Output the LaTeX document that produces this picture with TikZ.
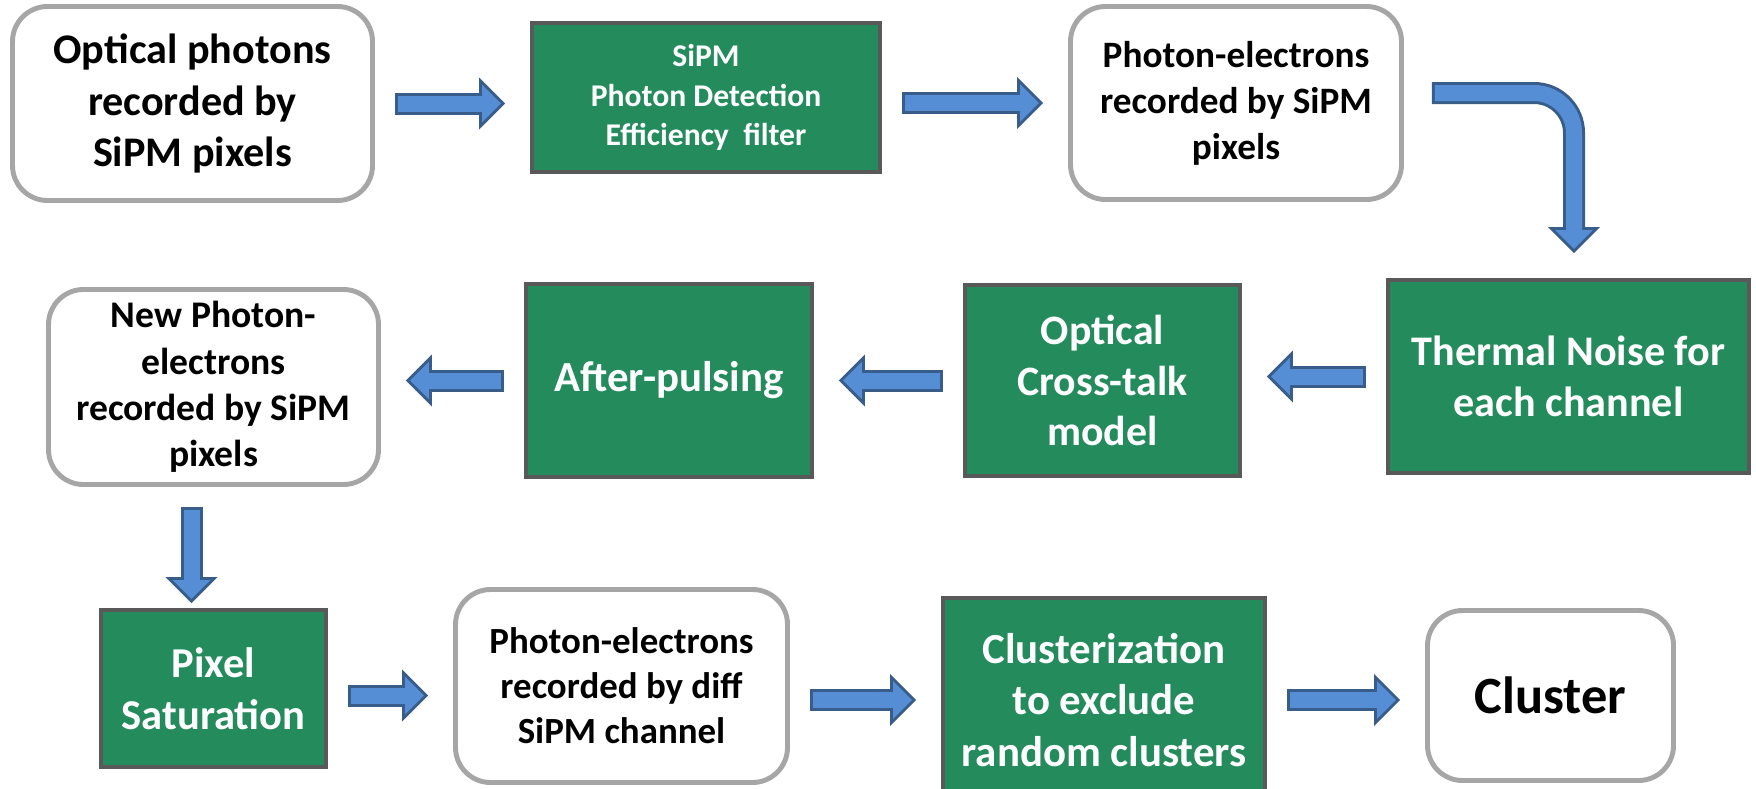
\documentclass[tikz,border=0pt]{standalone}
\usepackage{fontspec}
\setmainfont{Carlito}
\usetikzlibrary{arrows.meta, positioning, calc}

\definecolor{stagegreen}{RGB}{35,139,92}
\definecolor{stageedge}{RGB}{89,89,89}
\definecolor{plainedge}{RGB}{166,166,166}
\definecolor{flowblue}{RGB}{85,142,213}
\definecolor{flowedge}{RGB}{56,93,138}

\begin{document}
\begin{tikzpicture}[
    plain/.style={draw=plainedge, line width=1.4pt, fill=white, rounded corners=0.35cm, align=center, inner sep=0pt},
    stage/.style={draw=stageedge, line width=1.1pt, fill=stagegreen, text=white, align=center, inner sep=0pt},
    flow/.style={draw=flowblue, line width=0.16cm, shorten <=0.23cm, shorten >=0.292cm,
        -{Triangle[width=0.376cm, length=0.188cm, line width=0pt]},
        preaction={draw=flowedge, line width=0.22cm, shorten <=0.2cm, shorten >=0.25cm,
            -{Triangle[width=0.52cm, length=0.26cm, line width=0pt]}}}]
    \useasboundingbox (0,0) rectangle (17.56,-7.88);

    % top row
    \node[plain, minimum width=3.60cm, minimum height=1.94cm, font=\fontsize{12}{14.6}\bfseries] (optical) at (1.925,-1.035) {Optical photons\\recorded by\\SiPM pixels};
    \node[stage, minimum width=3.48cm, minimum height=1.49cm, font=\fontsize{9}{11.2}\bfseries] (pde) at (7.06,-0.975) {SiPM\\Photon Detection\\Efficiency~ filter};
    \node[plain, minimum width=3.31cm, minimum height=1.93cm, font=\fontsize{10.6}{13.1}\bfseries] (pe) at (12.36,-1.03) {Photon-electrons\\recorded by SiPM\\pixels};

    % middle row
    \node[stage, minimum width=3.61cm, minimum height=1.93cm, font=\fontsize{12}{14.6}\bfseries] (thermal) at (15.685,-3.765) {Thermal Noise for\\each channel};
    \node[stage, minimum width=2.75cm, minimum height=1.91cm, font=\fontsize{11.9}{14.3}\bfseries] (xtalk) at (11.025,-3.805) {Optical\\Cross-talk\\model};
    \node[stage, minimum width=2.86cm, minimum height=1.93cm, font=\fontsize{12.2}{14.6}\bfseries] (afterpulse) at (6.69,-3.805) {After-pulsing};
    \node[plain, minimum width=3.30cm, minimum height=1.95cm, font=\fontsize{10.7}{13.2}\bfseries] (newpe) at (2.135,-3.87) {New Photon-\\electrons\\recorded by SiPM\\pixels};

    % bottom row
    \node[stage, minimum width=2.25cm, minimum height=1.57cm, font=\fontsize{12.1}{14.9}\bfseries] (saturation) at (2.135,-6.885) {Pixel\\Saturation};
    \node[plain, minimum width=3.32cm, minimum height=1.93cm, font=\fontsize{10.5}{12.8}\bfseries] (diffpe) at (6.215,-6.86) {Photon-electrons\\recorded by diff\\SiPM channel};
    \node[stage, minimum width=3.22cm, minimum height=2.04cm, font=\fontsize{12.2}{14.6}\bfseries] (clusterize) at (11.04,-7.0) {Clusterization\\to exclude\\random clusters};
    \node[plain, minimum width=2.46cm, minimum height=1.70cm, font=\fontsize{14.9}{18}\bfseries] (cluster) at (15.505,-6.955) {Cluster};

    % block arrows
    \draw[flow] (optical.east) -- (optical.east -| pde.west);
    \draw[flow] (pde.east |- pe.west) -- (pe.west);
    \draw[flow, rounded corners=0.4cm] ([shift={(0.08cm,0.1cm)}]pe.east) -| ([xshift=0.055cm]thermal.north);
    \draw[flow] (thermal.west) -- (thermal.west -| xtalk.east);
    \draw[flow] (xtalk.west) -- (xtalk.west -| afterpulse.east);
    \draw[flow] (afterpulse.west) -- (afterpulse.west -| newpe.east);
    \draw[flow] ([xshift=-0.22cm]newpe.south) -- ([xshift=-0.22cm,yshift=-0.2cm]saturation.north);
    \draw[flow] ([yshift=-0.07cm]saturation.east) -- ([yshift=-0.07cm]saturation.east -| diffpe.west);
    \draw[flow] (diffpe.east |- clusterize.west) -- (clusterize.west);
    \draw[flow] (clusterize.east) -- (clusterize.east -| cluster.west);
\end{tikzpicture}
\end{document}
